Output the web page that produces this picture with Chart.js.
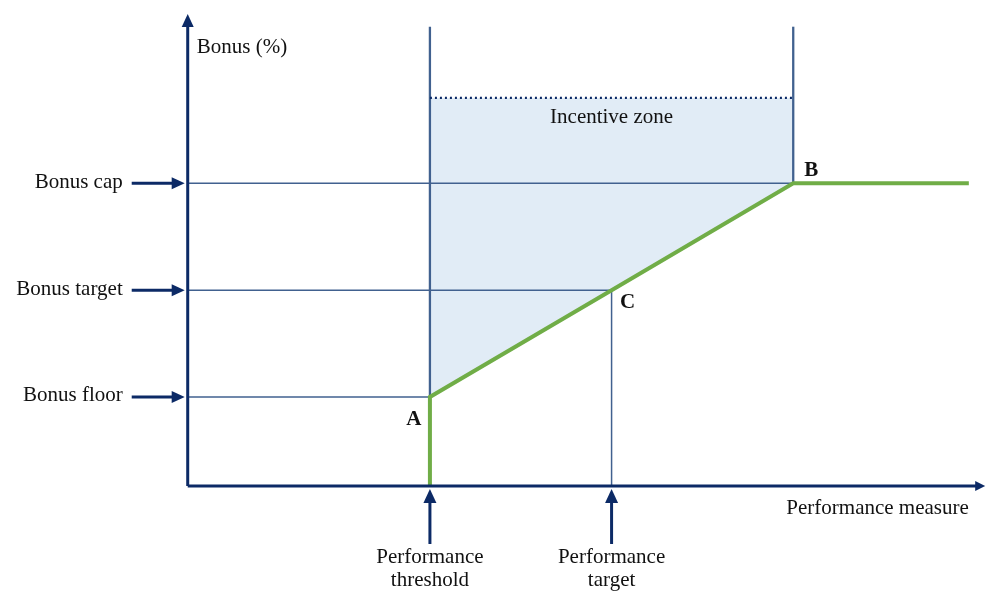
<!DOCTYPE html>
<html>
<head>
<meta charset="utf-8">
<title>Bonus incentive zone</title>
<script src="https://cdn.jsdelivr.net/npm/chart.js@4.4.1/dist/chart.umd.min.js"></script>
<style>
  html, body { margin: 0; padding: 0; background: #fff; }
  .chart-wrapper { position: relative; width: 987px; height: 591px; }
</style>
</head>
<body>
<div class="chart-wrapper">
  <canvas id="myChart"></canvas>
</div>
<script>
// data (performance units on x, bonus % on y)
const perfLabels = [['Performance', 'threshold'], ['Performance', 'target']];
const perfValues = [40, 70];
const bonusLabels = ['Bonus floor', 'Bonus target', 'Bonus cap'];
const bonusValues = [25, 55, 85];
const capPerf = 100;      // performance where the cap is reached (B)
const perfEnd = 129;      // end of the pay curve
const zoneTop = 109;      // dotted upper edge of incentive zone
const wallTop = 129;      // top of the two vertical zone lines
const xAxisEnd = 131.7;
const yAxisEnd = 132.6;
const payX = [40, 40, 70, 100, 129];
const payY = [0, 25, 55, 85, 85];
const pointNames = ['A', 'C', 'B'];

const FONT = '"Liberation Serif", "Times New Roman", serif';
const NAVY = '#0c2a66';
const STEEL = '#41618f';

const pts = (xs, ys) => xs.map((x, i) => ({ x: x, y: ys[i] }));

const thr = perfValues[0], tgt = perfValues[1];
const floor = bonusValues[0], btgt = bonusValues[1], cap = bonusValues[2];

const zone = pts([thr, thr, capPerf, capPerf, thr], [floor, zoneTop, zoneTop, cap, floor]);

const thinLines = [
  pts([0, capPerf], [cap, cap]),
  pts([0, tgt], [btgt, btgt]),
  pts([0, thr], [floor, floor]),
  pts([tgt, tgt], [0, btgt])
];

const datasets = [
  { data: zone, showLine: true, fill: 'shape', backgroundColor: '#e1ecf6', borderWidth: 0, order: 10 }
];
thinLines.forEach(d => datasets.push({ data: d, showLine: true, borderColor: STEEL, borderWidth: 1.5, order: 8 }));
datasets.push({ data: pts([thr, thr], [floor, wallTop]), showLine: true, borderColor: STEEL, borderWidth: 2.3, order: 7 });
datasets.push({ data: pts([capPerf, capPerf], [cap, wallTop]), showLine: true, borderColor: STEEL, borderWidth: 2.3, order: 7 });
datasets.push({ data: pts([thr, capPerf], [zoneTop, zoneTop]), showLine: true, borderColor: NAVY, borderWidth: 2.4, borderDash: [2, 3], order: 6 });
datasets.push({ data: pts(payX, payY), showLine: true, borderColor: '#70ad47', borderWidth: 4, order: 2 });

function arrow(ctx, x1, y1, x2, y2, w, head, hw) {
  const a = Math.atan2(y2 - y1, x2 - x1);
  ctx.save();
  ctx.strokeStyle = NAVY;
  ctx.fillStyle = NAVY;
  ctx.lineWidth = w;
  ctx.beginPath();
  ctx.moveTo(x1, y1);
  ctx.lineTo(x2 - Math.cos(a) * head * 0.8, y2 - Math.sin(a) * head * 0.8);
  ctx.stroke();
  ctx.translate(x2, y2);
  ctx.rotate(a);
  ctx.beginPath();
  ctx.moveTo(0, 0);
  ctx.lineTo(-head, -hw);
  ctx.lineTo(-head, hw);
  ctx.closePath();
  ctx.fill();
  ctx.restore();
}

const diagram = {
  id: 'diagram',
  afterDatasetsDraw(chart) {
    const ctx = chart.ctx;
    const xs = chart.scales.x, ys = chart.scales.y;
    const X = v => xs.getPixelForValue(v);
    const Y = v => ys.getPixelForValue(v);
    const x0 = X(0), y0 = Y(0);

    // axes
    arrow(ctx, x0, y0, x0, Y(yAxisEnd), 3, 13, 6);
    arrow(ctx, x0, y0, X(xAxisEnd), y0, 3, 10, 5);

    ctx.save();
    ctx.fillStyle = '#111';
    ctx.font = '21px ' + FONT;
    ctx.textBaseline = 'middle';

    // bonus level arrows + labels
    bonusValues.forEach((v, i) => {
      arrow(ctx, x0 - 56, Y(v), x0 - 3, Y(v), 3, 13, 6);
      ctx.textAlign = 'right';
      ctx.fillText(bonusLabels[i], x0 - 65, Y(v) - 1);
    });

    // performance arrows + labels
    perfValues.forEach((v, i) => {
      arrow(ctx, X(v), y0 + 58, X(v), y0 + 3, 3, 14, 6.5);
      ctx.textAlign = 'center';
      ctx.fillText(perfLabels[i][0], X(v), y0 + 72);
      ctx.fillText(perfLabels[i][1], X(v), y0 + 95);
    });

    ctx.textAlign = 'left';
    ctx.fillText('Bonus (%)', x0 + 9, 47);
    ctx.textAlign = 'right';
    ctx.fillText('Performance measure', X(perfEnd), y0 + 23);
    ctx.textAlign = 'center';
    ctx.fillText('Incentive zone', X((thr + capPerf) / 2), Y(zoneTop) + 20);

    // point labels A, C, B
    ctx.font = 'bold 21px ' + FONT;
    ctx.fillText(pointNames[0], X(thr) - 16, Y(floor) + 23);
    ctx.fillText(pointNames[1], X(tgt) + 16, Y(btgt) + 12);
    ctx.fillText(pointNames[2], X(capPerf) + 18, Y(cap) - 13);
    ctx.restore();
  }
};

const myChart = new Chart(document.getElementById('myChart'), {
  type: 'scatter',
  data: { datasets: datasets },
  options: {
    responsive: true,
    maintainAspectRatio: false,
    animation: false,
    events: [],
    layout: { padding: 0 },
    elements: { point: { radius: 0 }, line: { tension: 0 } },
    plugins: { legend: { display: false }, tooltip: { enabled: false } },
    scales: {
      x: { type: 'linear', min: -31, max: 132, display: false },
      y: { type: 'linear', min: -29.5, max: 136.5, display: false }
    }
  },
  plugins: [diagram]
});
</script>
</body>
</html>
